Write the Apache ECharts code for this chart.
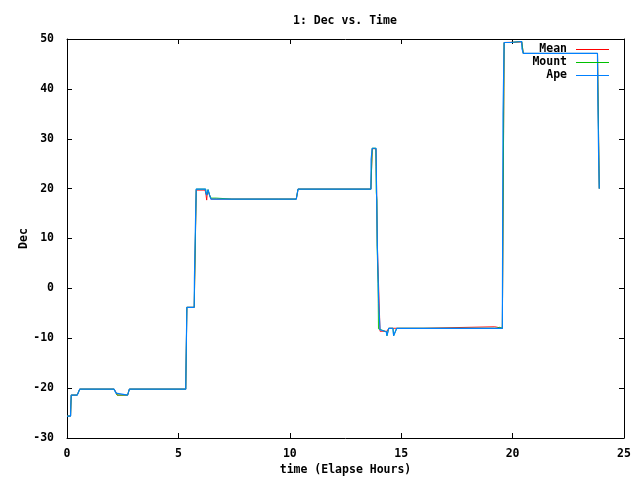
<!DOCTYPE html>
<html>
<head>
<meta charset="utf-8">
<script src="https://cdn.jsdelivr.net/npm/echarts@6/dist/echarts.min.js"></script>
<style>html,body{margin:0;padding:0;background:#fff}#c{width:640px;height:480px}</style>
</head>
<body>
<div id="c"></div>
<script>
const titleText = '1: Dec vs. Time';
const xName = 'time (Elapse Hours)';
const yName = 'Dec';
const seriesNames = ['Mean', 'Mount', 'Ape'];
const xTicks = [0, 5, 10, 15, 20, 25];
const yTicks = [-30, -20, -10, 0, 10, 20, 30, 40, 50];

const meanData = [[0,-25.6],[0.16,-25.6],[0.19,-21.4],[0.46,-21.4],[0.57,-20.2],[2.11,-20.2],[2.2,-20.8],[2.25,-21.4],[2.72,-21.4],[2.8,-20.2],[5.33,-20.2],[5.38,-3.8],[5.71,-3.8],[5.8,19.7],[6.2,19.7],[6.24,18.7],[6.27,17.7],[6.29,18.7],[6.33,19.6],[6.38,19.6],[6.46,17.9],[9.5,17.9],[9.51,17.7],[9.54,17.7],[9.55,17.9],[10.29,17.9],[10.37,19.9],[13.64,19.9],[13.7,28.0],[13.87,28.0],[13.93,8.4],[14.05,-8.6],[14.36,-8.6],[14.44,-8.0],[16.0,-8.0],[16.01,-7.7],[19.2,-7.7],[19.22,-8.0],[19.54,-8.0],[19.62,49.3],[20.41,49.4],[20.48,47.1],[23.81,47.1],[23.89,20.0]];

const mountData = [[0,-25.6],[0.16,-25.6],[0.19,-21.4],[0.46,-21.4],[0.57,-20.2],[2.11,-20.2],[2.25,-21.4],[2.72,-21.4],[2.8,-20.2],[5.33,-20.2],[5.38,-3.8],[5.71,-3.8],[5.8,19.9],[6.22,19.9],[6.27,18.7],[6.3,18.7],[6.33,19.8],[6.4,18.7],[6.46,18.1],[6.7,18.1],[6.72,17.9],[7.4,17.9],[7.42,18.1],[7.48,18.1],[7.5,17.9],[10.29,17.9],[10.37,19.9],[13.64,19.9],[13.7,28.1],[13.86,28.1],[13.87,24.5],[13.88,19.3],[13.91,17.7],[13.92,8.4],[13.96,1.0],[13.97,-3.0],[13.98,-8.1],[14.05,-8.5],[14.33,-8.7],[14.36,-9.5],[14.44,-8.0],[14.63,-8.0],[14.66,-9.5],[14.8,-8.0],[19.3,-8.0],[19.31,-7.8],[19.4,-7.8],[19.54,-8.0],[19.62,49.3],[19.89,49.3],[19.9,49.5],[20.41,49.5],[20.48,47.1],[23.4,47.1],[23.42,46.9],[23.45,46.9],[23.47,47.1],[23.81,47.1],[23.89,20.0]];

const apeData = [[0,-25.6],[0.16,-25.6],[0.17,-23.5],[0.19,-21.4],[0.46,-21.4],[0.52,-20.8],[0.57,-20.2],[2.11,-20.2],[2.2,-21.0],[2.25,-21.4],[2.72,-21.4],[2.76,-20.8],[2.8,-20.2],[5.33,-20.2],[5.34,-16.2],[5.38,-3.8],[5.71,-3.8],[5.72,2.0],[5.77,13.9],[5.8,19.9],[6.22,19.9],[6.23,19.2],[6.27,18.7],[6.3,18.7],[6.33,19.8],[6.38,19.8],[6.4,18.7],[6.46,17.9],[9.5,17.9],[9.51,18.1],[9.54,18.1],[9.55,17.9],[10.29,17.9],[10.3,18.3],[10.37,19.9],[13.64,19.9],[13.65,25.9],[13.7,28.1],[13.87,28.1],[13.88,24.5],[13.9,17.7],[13.93,8.4],[13.99,-2.9],[14.05,-8.3],[14.07,-8.7],[14.33,-8.7],[14.36,-9.5],[14.44,-8.0],[14.63,-8.0],[14.66,-9.5],[14.8,-8.0],[19.54,-8.0],[19.55,6.5],[19.57,34.9],[19.62,49.3],[19.89,49.3],[19.9,49.5],[20.41,49.5],[20.42,48.1],[20.48,47.1],[23.81,47.1],[23.82,40.3],[23.86,26.7],[23.89,20.0]];

const FONT = 'DejaVu Sans Mono';
const txt = {color:'#000', fontFamily: FONT, fontWeight:'bold', fontSize: 11.5};
const colors = ['#ff0000', '#00c000', '#0080ff'];

const chart = echarts.init(document.getElementById('c'), null, {renderer:'canvas'});
function axisCommon() {
  return {
    axisLine:{show:true, onZero:false, lineStyle:{color:'#000', width:1}},
    axisTick:{show:true, inside:true, length:5, lineStyle:{color:'#000', width:1}},
    splitLine:{show:false}
  };
}
chart.setOption({
  animation:false,
  backgroundColor:'#fff',
  title:{text:titleText, left:293, top:15, padding:0, textStyle:Object.assign({}, txt)},
  legend:{
    orient:'vertical', right:31, top:43, align:'right', itemGap:0,
    itemWidth:33, itemHeight:1, padding:0, icon:'rect',
    textStyle:Object.assign({width:40, height:13, lineHeight:13, align:'right', padding:[0,4,0,0]}, txt),
    data:seriesNames.map((n, i) => ({
      name:n,
      itemStyle:{color:colors[i], borderColor:colors[i], borderWidth:0, opacity:1}
    }))
  },
  grid:{left:67, right:16, top:39, bottom:42, containLabel:false, outerBoundsMode:'none'},
  xAxis:[
    Object.assign({type:'value', min:xTicks[0], max:xTicks[xTicks.length-1], interval:5, position:'bottom',
      name:xName, nameLocation:'middle', nameGap:26, nameMoveOverlap:false, nameTextStyle:Object.assign({}, txt),
      axisLabel:Object.assign({margin:10}, txt)}, axisCommon()),
    Object.assign({type:'value', min:xTicks[0], max:xTicks[xTicks.length-1], interval:5, position:'top',
      axisLabel:{show:false}}, axisCommon())
  ],
  yAxis:[
    Object.assign({type:'value', min:yTicks[0], max:yTicks[yTicks.length-1], interval:10, position:'left',
      name:yName, nameLocation:'middle', nameGap:37, nameMoveOverlap:false, nameRotate:90, nameTextStyle:Object.assign({}, txt),
      axisLabel:Object.assign({margin:13}, txt)}, axisCommon()),
    Object.assign({type:'value', min:yTicks[0], max:yTicks[yTicks.length-1], interval:10, position:'right',
      axisLabel:{show:false}}, axisCommon())
  ],
  series:[
    {name:seriesNames[0], type:'line', data:meanData, symbol:'none', lineStyle:{width:0.9, color:colors[0]}, itemStyle:{color:colors[0]}, z:1},
    {name:seriesNames[1], type:'line', data:mountData, symbol:'none', lineStyle:{width:0.9, color:colors[1]}, itemStyle:{color:colors[1]}, z:2},
    {name:seriesNames[2], type:'line', data:apeData, symbol:'none', lineStyle:{width:1.2, color:colors[2]}, itemStyle:{color:colors[2]}, z:3}
  ]
});
</script>
</body>
</html>
